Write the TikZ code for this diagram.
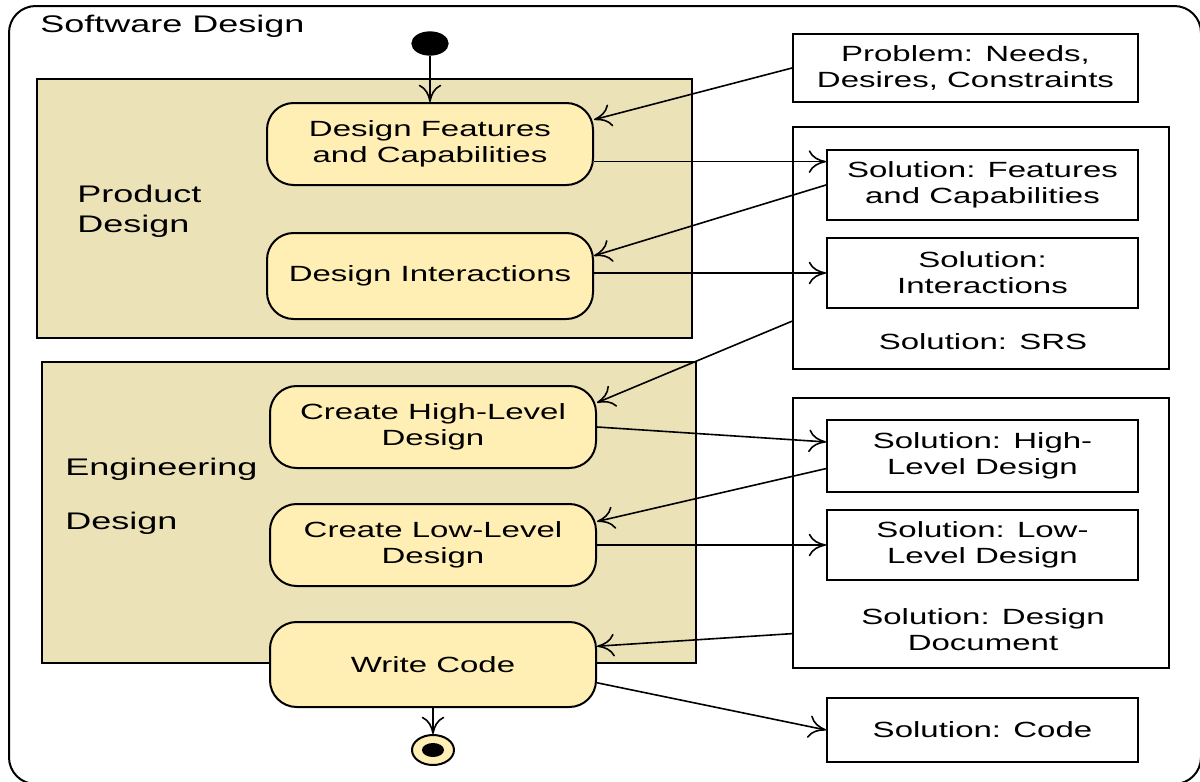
\documentclass[tikz,border=0pt]{standalone}
\usepackage{fontspec}
\setmainfont{Liberation Sans}[FakeStretch=1.5]
\usetikzlibrary{arrows.meta,calc,shapes.geometric}
\definecolor{actfill}{HTML}{FFEFB5}
\definecolor{lanefill}{HTML}{EBE3B7}
\newcommand\boxfont{\fontsize{16.5pt}{19.5pt}\selectfont}
\newcommand\lanefont{\fontsize{18pt}{22.5pt}\selectfont}
\tikzset{
  lane/.style={draw,fill=lanefill,line width=1.5pt,inner sep=0pt},
  lanetext/.style={align=left,font=\lanefont,inner sep=0pt},
  activity/.style={draw,fill=actfill,rounded corners=20pt,line width=1.5pt,minimum width=244.5pt,minimum height=61.5pt,align=center,font=\boxfont,inner sep=0pt},
  artifact/.style={draw,fill=white,line width=1.5pt,minimum width=233.25pt,minimum height=52.5pt,align=center,font=\boxfont,inner sep=0pt},
  flow/.style={-{To[length=13pt,width=17pt]},line width=1.2pt}
}
\begin{document}
\begin{tikzpicture}[x=0.75pt,y=-0.75pt]
  \useasboundingbox (0,0) rectangle (1200,782);
  \clip (0,0) rectangle (1200,782);
  \draw[line width=1.5pt,rounded corners=20pt] (9,6) rectangle (1201,784);
  \node[anchor=base west,font=\lanefont,inner sep=0pt] (title) at (40,32) {Software Design};

  \node[lane,minimum width=491.25pt,minimum height=194.25pt] (pd) at (364.5,208.5) {};
  \node[lane,minimum width=490.5pt,minimum height=225.75pt] (ed) at (369,512.5) {};
  \node[lanetext,anchor=west] (pdtext) at (77,211) {Product\\Design};
  \node[lanetext,anchor=west] (edtext) at (65,496) {Engineering\\[18pt]Design};

  \node[activity] (dfc) at (430,144) {Design Features\\and Capabilities};
  \node[activity,minimum height=64.5pt] (di) at (430,276) {Design Interactions};
  \node[activity] (chld) at (433,427) {Create High-Level\\Design};
  \node[activity] (clld) at (433,545) {Create Low-Level\\Design};
  \node[activity,minimum height=63.75pt] (wc) at (433,664.5) {Write Code};

  \node[ellipse,draw,fill=black,line width=1pt,minimum width=27pt,minimum height=17.25pt,inner sep=0pt] (start) at (430,43.5) {};
  \node[ellipse,draw,fill=actfill,line width=1.5pt,minimum width=31.5pt,minimum height=22.5pt,inner sep=0pt] (finish) at (433,750) {};
  \node[ellipse,fill=black,minimum width=16.5pt,minimum height=10.5pt,inner sep=0pt] (finishdot) at (finish) {};

  \node[artifact,minimum width=258.75pt,minimum height=51pt] (prob) at (965.5,68) {Problem: Needs,\\Desires, Constraints};
  \node[artifact,minimum width=282pt,minimum height=181.5pt] (srs) at (981,248) {};
  \node[font=\boxfont,inner sep=0pt] (srstext) at (983,342) {Solution: SRS};
  \node[artifact] (solfc) at (982.5,185) {Solution: Features\\and Capabilities};
  \node[artifact] (solint) at (982.5,273) {Solution:\\Interactions};
  \node[artifact,minimum width=282pt,minimum height=202.5pt] (dd) at (981,533) {};
  \node[font=\boxfont,align=center,inner sep=0pt] (ddtext) at (983,630) {Solution: Design\\Document};
  \node[artifact,minimum height=54pt] (solhld) at (982.5,456) {Solution: High-\\Level Design};
  \node[artifact] (solld) at (982.5,545) {Solution: Low-\\Level Design};
  \node[artifact,minimum height=48pt] (solcode) at (982.5,730) {Solution: Code};

  \draw[flow] (start) -- (dfc);
  \draw[flow] (prob.west) -- ($(dfc.north east)!.21!(dfc.south east)$);
  \draw[flow] ($(dfc.north east)!.71!(dfc.south east)$) coordinate (fcout) -- (fcout -| solfc.west);
  \draw[flow] (solfc.west) -- ($(di.north east)!.27!(di.south east)$);
  \draw[flow] (solint.west -| di.east) -- (solint.west);
  \draw[flow] ($(srs.north west)!.8!(srs.south west)$) -- ($(chld.north east)!.21!(chld.south east)$);
  \draw[flow] (chld.east) -- ($(solhld.north west)!.31!(solhld.south west)$);
  \draw[flow] ($(solhld.north west)!.67!(solhld.south west)$) -- ($(clld.north east)!.22!(clld.south east)$);
  \draw[flow] (clld.east) -- (solld.west);
  \draw[flow] ($(dd.north west)!.87!(dd.south west)$) -- ($(wc.north east)!.29!(wc.south east)$);
  \draw[flow] ($(wc.north east)!.71!(wc.south east)$) -- (solcode.west);
  \draw[flow] (wc) -- (finish);
\end{tikzpicture}
\end{document}
